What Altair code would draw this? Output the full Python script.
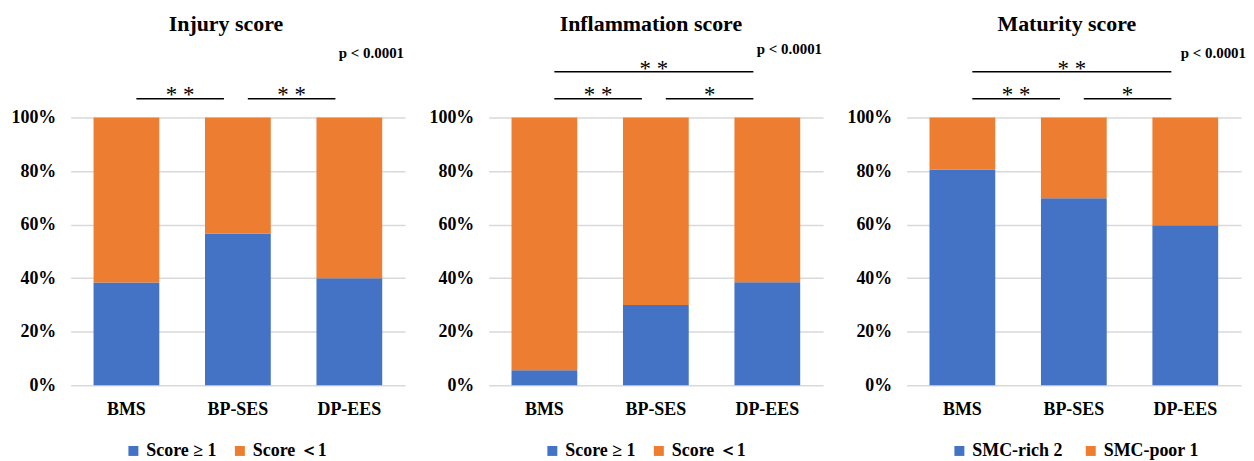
import altair as alt
import pandas as pd

# ---- data ----
groups = ["BMS", "BP-SES", "DP-EES"]
injury_ge1 = [38.4, 56.6, 40.0]        # % "Score >= 1" (blue), remainder orange
inflammation_ge1 = [5.6, 30.0, 38.5]
maturity_rich = [80.6, 69.9, 59.8]      # % "SMC-rich 2" (blue)

score_labels = ["Score ≥ 1", "Score ＜1"]
maturity_labels = ["SMC-rich 2", "SMC-poor 1"]
titles = ["Injury score", "Inflammation score", "Maturity score"]
p_text = "p < 0.0001"

injury_brackets = [("BMS", "BP-SES", "* *", 1), ("BP-SES", "DP-EES", "* *", 1)]
inflammation_brackets = [("BMS", "BP-SES", "* *", 1), ("BP-SES", "DP-EES", "*", 1),
                         ("BMS", "DP-EES", "* *", 2)]
maturity_brackets = [("BMS", "BP-SES", "* *", 1), ("BP-SES", "DP-EES", "*", 1),
                     ("BMS", "DP-EES", "* *", 2)]

# ---- styling ----
BLUE = "#4472C4"
ORANGE = "#ED7D31"
FONT = "Liberation Serif"
W, H = 336, 269
LAB = 18


def panel(title, values, labels, brackets, title_dx, p_dx, p_y, legend_x, col_pad):
    rows = []
    for g, v in zip(groups, values):
        rows.append(dict(group=g, series=labels[0], y0=0.0, y1=v / 100))
        rows.append(dict(group=g, series=labels[1], y0=v / 100, y1=1.0))
    df = pd.DataFrame(rows)

    yscale = alt.Scale(domain=[0, 1], nice=False)

    bars = alt.Chart(df).mark_bar().encode(
        x=alt.X("group:N", sort=groups,
                scale=alt.Scale(paddingInner=0.41, paddingOuter=0.205),
                axis=alt.Axis(title=None, labelAngle=0, labelFont=FONT, labelFontSize=LAB,
                              labelFontWeight="bold", labelColor="black", ticks=False,
                              domain=False, grid=False, labelPadding=15)),
        y=alt.Y("y0:Q", scale=yscale,
                axis=alt.Axis(title=None, format=".0%", values=[0, 0.2, 0.4, 0.6, 0.8, 1.0],
                              labelFont=FONT, labelFontSize=LAB, labelFontWeight="bold",
                              labelColor="black", ticks=False, domain=False, grid=True,
                              gridColor="#D9D9D9", gridWidth=1.5, labelPadding=15)),
        y2="y1:Q",
        color=alt.Color("series:N", sort=labels,
                        scale=alt.Scale(domain=labels, range=[BLUE, ORANGE]),
                        legend=alt.Legend(title=None, orient="none", legendX=legend_x,
                                          legendY=326, direction="horizontal",
                                          labelFont=FONT, labelFontSize=LAB,
                                          labelFontWeight="bold", labelColor="black",
                                          symbolType="square", symbolSize=100,
                                          symbolStrokeWidth=0, labelOffset=4,
                                          columnPadding=col_pad, padding=0)),
    )

    bdf = pd.DataFrame(
        [dict(i0=groups.index(a), i1=groups.index(b), label=l, level=lv)
         for a, b, l, lv in brackets])
    xq = alt.Scale(domain=[-0.5, 2.5], nice=False, zero=False)

    rules = alt.Chart(bdf).transform_calculate(
        ly="datum.level == 1 ? 1.0706 : 1.171"
    ).mark_rule(color="black", strokeWidth=1.5, xOffset=10, x2Offset=-14).encode(
        x=alt.X("i0:Q", scale=xq, axis=None),
        x2="i1:Q",
        y=alt.Y("ly:Q", scale=yscale),
    )

    stars = alt.Chart(bdf).transform_calculate(
        mid="(datum.i0 + datum.i1) / 2",
        sy="datum.level == 1 ? 1.057 : 1.157",
    ).mark_text(font=FONT, fontSize=23, color="black", baseline="alphabetic",
                align="center", dx=-2).encode(
        x=alt.X("mid:Q", scale=xq, axis=None),
        y=alt.Y("sy:Q", scale=yscale),
        text="label:N",
    )

    ttl = alt.Chart(pd.DataFrame({"t": [title]})).mark_text(
        font=FONT, fontSize=22, fontWeight="bold", color="black",
        baseline="alphabetic", align="center").encode(
        x=alt.value(W / 2 + title_dx), y=alt.datum(1.3234, scale=yscale), text="t:N")

    pv = alt.Chart(pd.DataFrame({"t": [p_text]})).mark_text(
        font=FONT, fontSize=15, fontWeight="bold", color="black",
        baseline="middle", align="right").encode(
        x=alt.value(W + p_dx), y=alt.datum(p_y, scale=yscale), text="t:N")

    return alt.layer(bars, rules, stars, ttl, pv).resolve_scale(x="independent").properties(
        width=W, height=H)


p1 = panel(titles[0], injury_ge1, score_labels, injury_brackets, -12, -1, 1.242, 54, 14)
p2 = panel(titles[1], inflammation_ge1, score_labels, inflammation_brackets, -5, -1, 1.257, 55, 14)
p3 = panel(titles[2], maturity_rich, maturity_labels, maturity_brackets, -7, 5, 1.242, 44, 19)

chart = alt.hconcat(p1, p2, p3, spacing=24).resolve_scale(color="independent").configure_view(
    stroke=None).properties(padding={"left": 3, "top": 4, "right": 0, "bottom": 0})

chart.save("out.html", embed_options={"renderer": "svg", "actions": False})
